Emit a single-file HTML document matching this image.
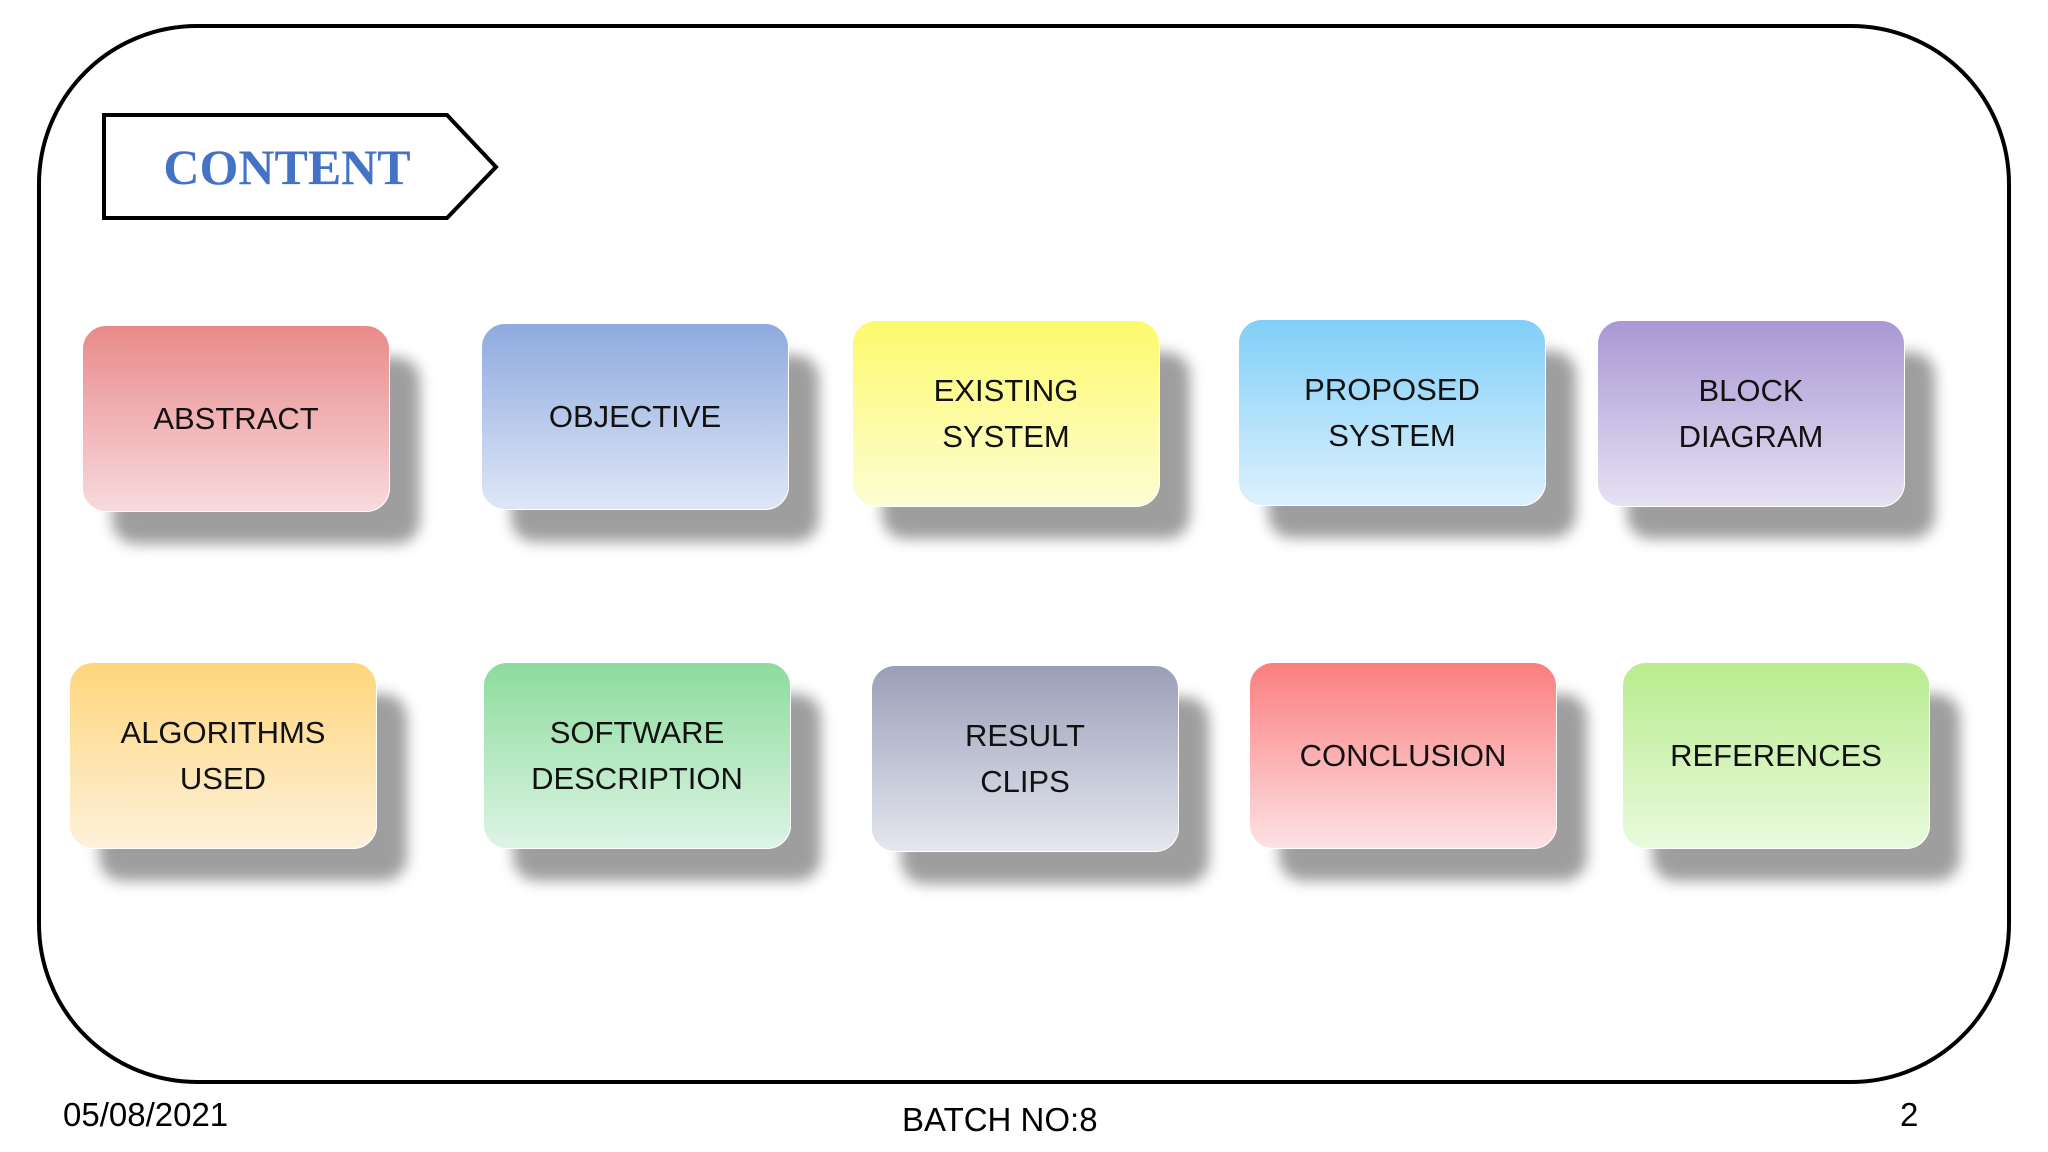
<!DOCTYPE html>
<html><head><meta charset="utf-8"><style>
html,body{margin:0;padding:0;background:#fff;}
body{width:2048px;height:1152px;position:relative;overflow:hidden;font-family:"Liberation Sans",sans-serif;}
.frame{position:absolute;left:37px;top:24px;width:1966px;height:1052px;border:4px solid #000;border-radius:160px;}
.b{position:absolute;width:306px;height:185px;border-radius:24px;border:1px solid #fff;box-shadow:30px 32px 14px rgba(0,0,0,.38);display:flex;align-items:center;justify-content:center;text-align:center;font-size:31px;line-height:46px;color:#111;}
.f{position:absolute;font-size:33px;color:#000;}
</style></head><body>
<div class="frame"></div>
<svg style="position:absolute;left:0;top:0" width="2048" height="1152">
<polygon points="104,115 447,115 496,167 447,218 104,218" fill="#fff" stroke="#000" stroke-width="4"/>
<text x="287" y="184" text-anchor="middle" font-family="Liberation Serif,serif" font-weight="bold" font-size="50" fill="#4472c4">CONTENT</text>
</svg>
<div class="b" style="left:82px;top:325px;background:linear-gradient(#e98a8a,#f8dade)">ABSTRACT</div>
<div class="b" style="left:481px;top:323px;background:linear-gradient(#8eaadf,#dfe7f6)">OBJECTIVE</div>
<div class="b" style="left:852px;top:320px;background:linear-gradient(#fdfa6c,#fdfdd4)">EXISTING<br>SYSTEM</div>
<div class="b" style="left:1238px;top:319px;background:linear-gradient(#80cff8,#ddf1fd)">PROPOSED<br>SYSTEM</div>
<div class="b" style="left:1597px;top:320px;background:linear-gradient(#a898d4,#e7e1f3)">BLOCK<br>DIAGRAM</div>
<div class="b" style="left:69px;top:662px;background:linear-gradient(#fed67c,#fdf1da)">ALGORITHMS<br>USED</div>
<div class="b" style="left:483px;top:662px;background:linear-gradient(#8cdc9c,#ddf4e5)">SOFTWARE<br>DESCRIPTION</div>
<div class="b" style="left:871px;top:665px;background:linear-gradient(#9a9fb8,#e5e7ef)">RESULT<br>CLIPS</div>
<div class="b" style="left:1249px;top:662px;background:linear-gradient(#fb7e7e,#fde1e5)">CONCLUSION</div>
<div class="b" style="left:1622px;top:662px;background:linear-gradient(#b8ec8e,#e9fadd)">REFERENCES</div>
<div class="f" style="left:63px;top:1096px">05/08/2021</div>
<div class="f" style="left:902px;top:1101px">BATCH NO:8</div>
<div class="f" style="left:1900px;top:1096px">2</div>
</body></html>
